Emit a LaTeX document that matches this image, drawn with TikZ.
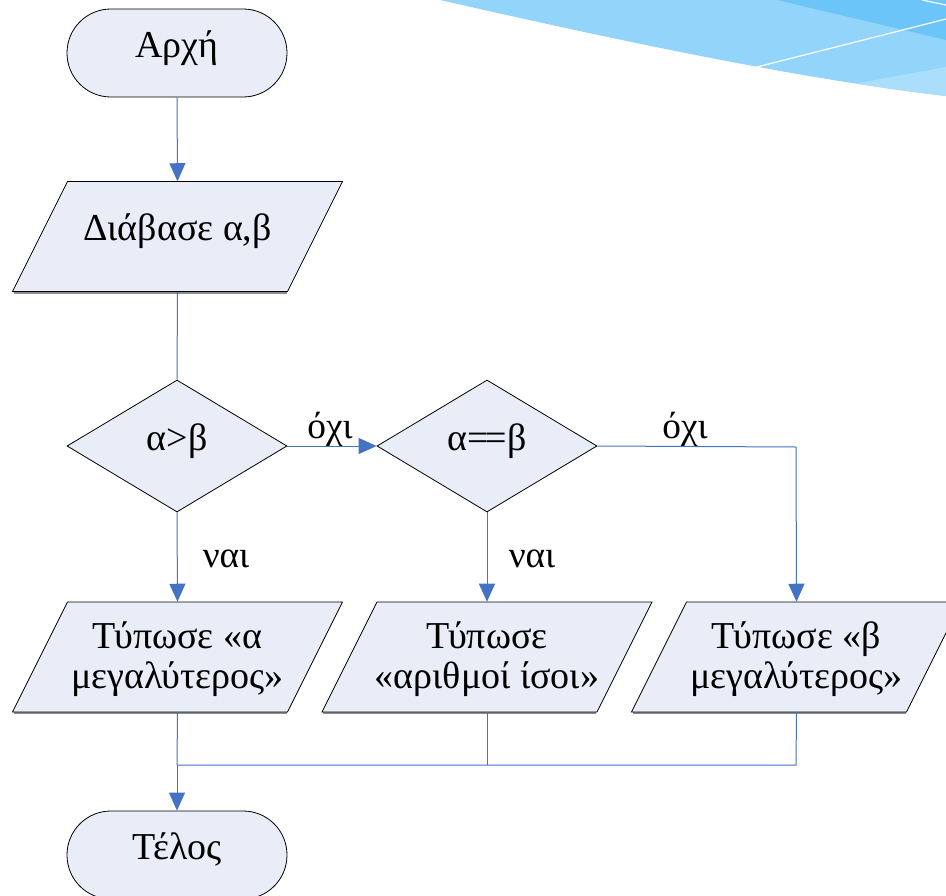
\documentclass[tikz,border=0pt]{standalone}
\usepackage{fontspec}
\setmainfont{Liberation Serif}
\usetikzlibrary{shapes.geometric,arrows.meta}
\definecolor{boxfill}{RGB}{232,237,247}
\definecolor{linkblue}{RGB}{68,114,196}
\definecolor{skyA}{RGB}{146,212,250}
\definecolor{skyB}{RGB}{108,197,248}
\definecolor{skyC}{RGB}{170,222,250}
\tikzset{
  textbase/.style={inner sep=0pt, align=center,
    font=\fontsize{28.5}{30}\selectfont},
  oneline/.style={text height=0.84em, text depth=0.2em},
  shapebase/.style={textbase, oneline, draw=black, line width=0.6pt, fill=boxfill},
  terminal/.style={shapebase, rectangle, rounded corners=32.9pt,
    minimum width=165pt, minimum height=66pt},
  decision/.style={shapebase, diamond, minimum width=165pt, minimum height=99pt},
  iobox/.style={textbase, rectangle, minimum width=247.5pt, minimum height=82.5pt},
  ioedge/.style={draw=black, line width=0.6pt, fill=boxfill},
  ioshadow/.style={draw=black!45, line width=1.3pt},
  link/.style={draw=linkblue, line width=0.75pt},
  arrowlink/.style={link, -{Triangle[length=13.5pt,width=12pt]}},
  lbl/.style={font=\fontsize{28}{30}\selectfont, inner sep=0pt, anchor=base}
}
\newcommand\ioshape[2]{%
  \draw[ioshadow] (#1-164,#2+56.2) -- (#1+109,#2+56.2);
  \draw[ioedge] (#1-165,#2+55) -- (#1+110,#2+55) -- (#1+165,#2-55)
     -- (#1-110,#2-55) -- cycle;}
\begin{document}
\begin{tikzpicture}[x=0.75pt,y=-0.75pt]
\useasboundingbox (0,0) rectangle (946,896);
% decorative swoosh (top right)
\begin{scope}
  \path[clip] (440,0) .. controls (620,41) and (800,79) .. (946,96) -- (946,0) -- cycle;
  \fill[skyA] (430,-5) rectangle (950,110);
  \fill[skyB] (777,0) -- (946,40) -- (946,0) -- cycle;
  \fill[skyC] (853,84) -- (946,67) -- (950,110) -- (853,110) -- cycle;
  \draw[white, line width=0.9pt] (753,68) -- (946,19);
  \draw[white, line width=0.9pt] (922,0) -- (946,5);
\end{scope}
% parallelogram outlines
\ioshape{177.5}{236.5}
\ioshape{177.5}{657}
\ioshape{487}{657}
\ioshape{796.5}{657}
% nodes
\node[terminal] (start) at (177,53) {Αρχή};
\node[iobox, oneline] (read) at (177.5,236.5) {Διάβασε α,β};
\node[decision] (gt) at (177,446) {α>β};
\node[decision] (eq) at (487,446) {α{=}\kern-0.07em{=}β};
\node[iobox] (pa) at (177.5,659) {Τύπωσε «α\\μεγαλύτερος»};
\node[iobox] (pe) at (487,659) {Τύπωσε\\«αριθμοί ίσοι»};
\node[iobox] (pb) at (796.5,659) {Τύπωσε «β\\μεγαλύτερος»};
\node[terminal] (stop) at (177,855) {Τέλος};
\coordinate (turn) at (796,447);
\coordinate (joinA) at (177,765);
\coordinate (joinE) at (487,765);
\coordinate (joinB) at (796,765);
% connectors
\draw[arrowlink] (start.south) -- (read.north);
\draw[link] (read.south) -- (gt.north);
\draw[arrowlink] (gt.east) -- (eq.west);
\draw[arrowlink] (gt.south) -- ([yshift=2*0.75pt]pa.north);
\draw[arrowlink] (eq.south) -- ([yshift=2*0.75pt]pe.north);
\draw[arrowlink] (eq.east) -- (turn) -- ([yshift=2*0.75pt]pb.north);
\draw[link] ([yshift=2*0.75pt]pa.south) -- (joinA);
\draw[link] ([yshift=2*0.75pt]pe.south) -- (joinE);
\draw[link] ([yshift=2*0.75pt]pb.south) -- (joinB) -- (joinA);
\draw[arrowlink] (joinA) -- (stop.north);
% labels
\node[lbl] (no1) at (330,438) {όχι};
\node[lbl] (no2) at (685,438) {όχι};
\node[lbl] (yes1) at (226,567) {ναι};
\node[lbl] (yes2) at (532,567) {ναι};
\end{tikzpicture}
\end{document}
